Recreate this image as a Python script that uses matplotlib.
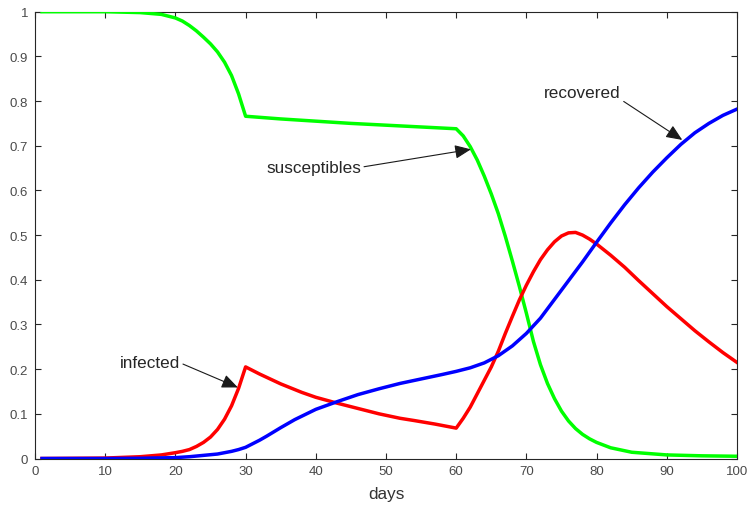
#!/usr/bin/env python3
"""
SIR curves with two intervention switches (day 30 and day 60).
"""
import matplotlib
matplotlib.use("Agg")
import matplotlib.pyplot as plt

# values
sus_days = [1, 10, 15, 18, 20, 21, 22, 23, 24, 25, 26, 27, 28, 29, 30, 35, 40, 45,
            50, 55, 60, 61, 62, 63, 64, 65, 66, 67, 68, 69, 70, 71, 72, 73, 74, 75,
            76, 77, 78, 79, 80, 82, 85, 90, 95, 100]
sus_vals = [1.0, 1.0, 0.998, 0.994, 0.986, 0.979, 0.969, 0.957, 0.943, 0.928,
            0.91, 0.887, 0.857, 0.816, 0.766, 0.760, 0.755, 0.750, 0.746, 0.742,
            0.738, 0.722, 0.698, 0.668, 0.632, 0.592, 0.548, 0.497, 0.442, 0.385,
            0.325, 0.262, 0.21, 0.168, 0.134, 0.106, 0.084, 0.067, 0.054, 0.044,
            0.036, 0.024, 0.014, 0.008, 0.006, 0.005]

inf_days = [1, 10, 15, 18, 20, 21, 22, 23, 24, 25, 26, 27, 28, 29, 30, 32, 35, 38,
            40, 43, 46, 49, 52, 54, 57, 60, 61, 62, 63, 64, 65, 66, 67, 68, 69, 70,
            71, 72, 73, 74, 75, 76, 77, 78, 79, 80, 82, 84, 86, 88, 90, 92, 94, 96,
            98, 100]
inf_vals = [0.0, 0.001, 0.004, 0.008, 0.013, 0.016, 0.02, 0.027, 0.036, 0.048,
            0.065, 0.088, 0.118, 0.157, 0.205, 0.189, 0.167, 0.148, 0.137, 0.124,
            0.112, 0.1, 0.09, 0.085, 0.077, 0.068, 0.09, 0.115, 0.145, 0.175, 0.205,
            0.24, 0.28, 0.318, 0.355, 0.388, 0.418, 0.445, 0.467, 0.485, 0.498,
            0.505, 0.506, 0.5, 0.491, 0.48, 0.455, 0.428, 0.398, 0.369, 0.34, 0.313,
            0.286, 0.261, 0.237, 0.215]

rec_days = [1, 10, 15, 20, 22, 24, 26, 28, 29, 30, 31, 32, 33, 35, 37, 40, 43, 46,
            49, 52, 55, 58, 60, 62, 64, 66, 68, 70, 72, 74, 76, 78, 80, 82, 84, 86,
            88, 90, 92, 94, 96, 98, 100]
rec_vals = [0.0, 0.0, 0.0005, 0.002, 0.004, 0.007, 0.01, 0.016, 0.02, 0.025, 0.033,
            0.041, 0.05, 0.069, 0.087, 0.11, 0.127, 0.143, 0.156, 0.168, 0.178,
            0.188, 0.195, 0.203, 0.214, 0.23, 0.252, 0.28, 0.314, 0.356, 0.398,
            0.44, 0.484, 0.527, 0.568, 0.606, 0.641, 0.673, 0.703, 0.729, 0.75,
            0.768, 0.782]

x_ticks = list(range(0, 101, 10))
y_ticks = [0, 0.1, 0.2, 0.3, 0.4, 0.5, 0.6, 0.7, 0.8, 0.9, 1]
y_tick_labels = ['0', '0.1', '0.2', '0.3', '0.4', '0.5', '0.6', '0.7', '0.8', '0.9', '1']

# (label, text position, arrow tip, relpos of arrow start on text box)
notes = [
    ('infected', (12.1, 0.214), (28.9, 0.159), (1.0, 0.5)),
    ('susceptibles', (32.96, 0.652), (62.1, 0.692), (1.0, 0.5)),
    ('recovered', (72.55, 0.82), (92.2, 0.713), (1.0, 0.0)),
]

plt.rcParams['font.family'] = ['Liberation Sans', 'DejaVu Sans']

fig = plt.figure(figsize=(7.48, 5.06), dpi=100)
ax = fig.add_axes([35 / 748, 1 - 459.5 / 506, 702 / 748, 446.8 / 506])

ax.plot(sus_days, sus_vals, color='#00ff00', linewidth=2.5, zorder=3)
ax.plot(inf_days, inf_vals, color='#ff0000', linewidth=2.5, zorder=3)
ax.plot(rec_days, rec_vals, color='#0000ff', linewidth=2.5, zorder=3)

for label, xytext, xy, rel in notes:
    ax.annotate(label, xy=xy, xytext=xytext, ha='left', va='center',
                fontsize=12.3, color='#262626',
                arrowprops=dict(arrowstyle='-|>,head_length=0.7,head_width=0.3',
                                color='#1a1a1a', lw=0.8, relpos=rel,
                                shrinkA=0, shrinkB=0, mutation_scale=14))

ax.set_xlim(0, 100)
ax.set_ylim(0, 1)
ax.set_xticks(x_ticks)
ax.set_yticks(y_ticks)
ax.set_yticklabels(y_tick_labels)
ax.tick_params(direction='in', length=4, width=0.8, color='#262626',
               top=True, right=True, labelsize=9.5, labelcolor='#4a4a4a', pad=5)
for s in ax.spines.values():
    s.set_color('#262626')
    s.set_linewidth(0.8)
ax.set_xlabel('days', fontsize=12.3, color='#333333', labelpad=6)

plt.savefig('out.png', dpi=100)
plt.close()
